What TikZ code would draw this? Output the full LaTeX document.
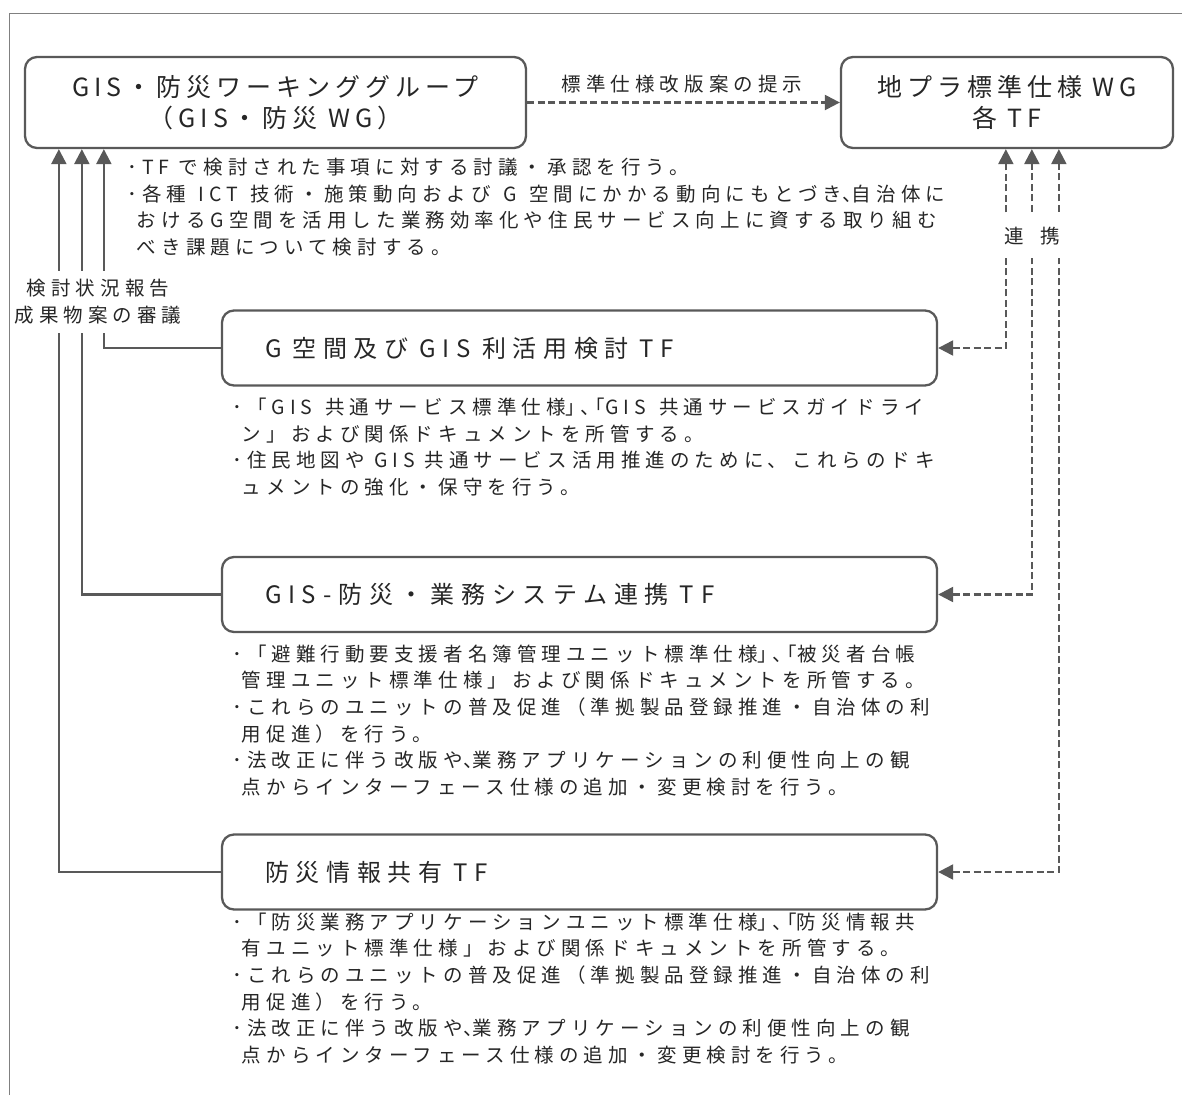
\documentclass[tikz,border=0pt]{standalone}
\usepackage{fontspec}
\setmainfont{Noto Sans CJK JP}
\newfontfamily\jpt{Noto Sans CJK JP}[LetterSpace=20]
\newfontfamily\jptf{Noto Sans CJK JP}[LetterSpace=28]
\newfontfamily\jp{Noto Sans CJK JP}[LetterSpace=26]
\newfontfamily\jph{Noto Sans CJK JP}[LetterSpace=26,RawFeature=+halt]
\XeTeXlinebreakskip=0pt plus 1pt
\usetikzlibrary{arrows.meta,calc}
\definecolor{ln}{HTML}{595959}
\definecolor{tx}{HTML}{262626}
\definecolor{fr}{HTML}{808080}
\newcommand{\ttlfont}{\jpt\fontsize{25}{31}\selectfont}
\newcommand{\tffont}{\jptf\fontsize{24}{30}\selectfont}
\newcommand{\bodyfont}{\jp\fontsize{19.5}{26.7}\selectfont}
\newcommand{\hb}{\phantom{･}}
\newcommand{\hw}[1]{{\jph #1}}
\newcommand{\tsp}{\hspace{11pt}}
\newcommand{\jl}[2]{{\XeTeXlinebreaklocale "ja"\makebox[#1][s]{#2}}}
\begin{document}
\begin{tikzpicture}[x=1pt,y=-1pt,
  box/.style={draw=ln, line width=2.3pt, rounded corners=12pt, inner sep=0pt, text=tx},
  tfbox/.style={box, minimum width=715pt, minimum height=75pt, text width=629pt, inner xsep=43pt, align=left, font=\tffont},
  topbox/.style={box, minimum height=91pt, align=center, font=\ttlfont},
  body/.style={inner sep=0pt, align=left, anchor=base west, font=\bodyfont, text=tx},
  lbl/.style={inner sep=0pt, font=\bodyfont, text=tx},
  conn/.style={draw=ln, line width=2.3pt, -{Triangle[width=15pt,length=15pt]}},
  dconn/.style={draw=ln, line width=2.3pt, dash pattern=on 7pt off 3.5pt},
  tip/.style={{Triangle[width=15pt,length=15pt]}-{Triangle[width=15pt,length=15pt]}}
]
\useasboundingbox (0,0) rectangle (1182,1095);
% frame
\draw[fr, line width=1.2pt] (9.5,1095) -- (9.5,13.5) -- (1182,13.5);

% top boxes
\node[topbox, minimum width=501pt] (wg) at (275.5,102.5) {GIS・防災ワーキンググループ\\（GIS・防災 WG）};
\node[topbox, minimum width=332pt] (wgr) at (1007,102.5) {地プラ標準仕様 WG\\各 TF};

% TF boxes (set before the justified lines)
\node[tfbox] (tf1) at (579.5,348) {G\tsp 空間及び\tsp GIS\tsp 利活用検討\tsp TF};
\node[tfbox] (tf2) at (579.5,594.5) {GIS-防災・業務システム連携\tsp TF};
\node[tfbox] (tf3) at (579.5,872) {防災情報共有\tsp TF};

% top arrow
\draw[dconn, -{Triangle[width=15pt,length=15pt]}] (wg.east) -- (wgr.west);
\node[lbl] (lab1) at (682,84) {標準仕様改版案の提示};

% left connectors
\draw[conn] (tf1.west) -| ([xshift=80pt]wg.south west);
\draw[conn] (tf2.west) -| ([xshift=58pt]wg.south west);
\draw[conn] (tf3.west) -| ([xshift=35pt]wg.south west);
\node[lbl, fill=white, align=center, inner xsep=2pt, inner ysep=9pt] (rep) at (98,302) {検討状況報告\\成果物案の審議};

% right connectors
\draw[dconn, tip] (tf1.east) -| ([xshift=166pt]wgr.south west);
\draw[dconn, tip] (tf2.east) -| ([xshift=192pt]wgr.south west);
\draw[dconn, tip] (tf3.east) -| ([xshift=219pt]wgr.south west);
\node[lbl, fill=white, inner xsep=4pt, inner ysep=13pt] (ren) at (1032,236) {連\hspace{16pt}携};

% top text (anchor = baseline of last line)
\node[body] (txt0) at (127,254.5) {･TF で検討された事項に対する討議・承認を行う。\\
\jl{818pt}{･各種 ICT 技術・施策動向および G 空間にかかる動向にもとづき\hw{、}自治体に}\\
\jl{818pt}{\hb おけるG空間を活用した業務効率化や住民サービス向上に資する取り組む}\\
\hb べき課題について検討する。};

\node[body] (txt1) at (232,494.5) {\jl{692pt}{･「GIS 共通サービス標準仕様\hw{」、「}GIS 共通サービスガイドライ}\\
\hb ン」および関係ドキュメントを所管する。\\
･住民地図や GIS 共通サービス活用推進のために、これらのドキ\\
\hb ュメントの強化・保守を行う。};

\node[body] (txt2) at (232,794.5) {\jl{696pt}{･「避難行動要支援者名簿管理ユニット標準仕様\hw{」、「}被災者台帳}\\
\hb 管理ユニット標準仕様」および関係ドキュメントを所管する。\\
\jl{696pt}{･これらのユニットの普及促進（準拠製品登録推進・自治体の利}\\
\hb 用促進）を行う。\\
\jl{696pt}{･法改正に伴う改版や\hw{、}業務アプリケーションの利便性向上の観}\\
\hb 点からインターフェース仕様の追加・変更検討を行う。};

\node[body] (txt3) at (232,1062.5) {\jl{696pt}{･「防災業務アプリケーションユニット標準仕様\hw{」、「}防災情報共}\\
\hb 有ユニット標準仕様」および関係ドキュメントを所管する。\\
\jl{696pt}{･これらのユニットの普及促進（準拠製品登録推進・自治体の利}\\
\hb 用促進）を行う。\\
\jl{696pt}{･法改正に伴う改版や\hw{、}業務アプリケーションの利便性向上の観}\\
\hb 点からインターフェース仕様の追加・変更検討を行う。};
\end{tikzpicture}
\end{document}
